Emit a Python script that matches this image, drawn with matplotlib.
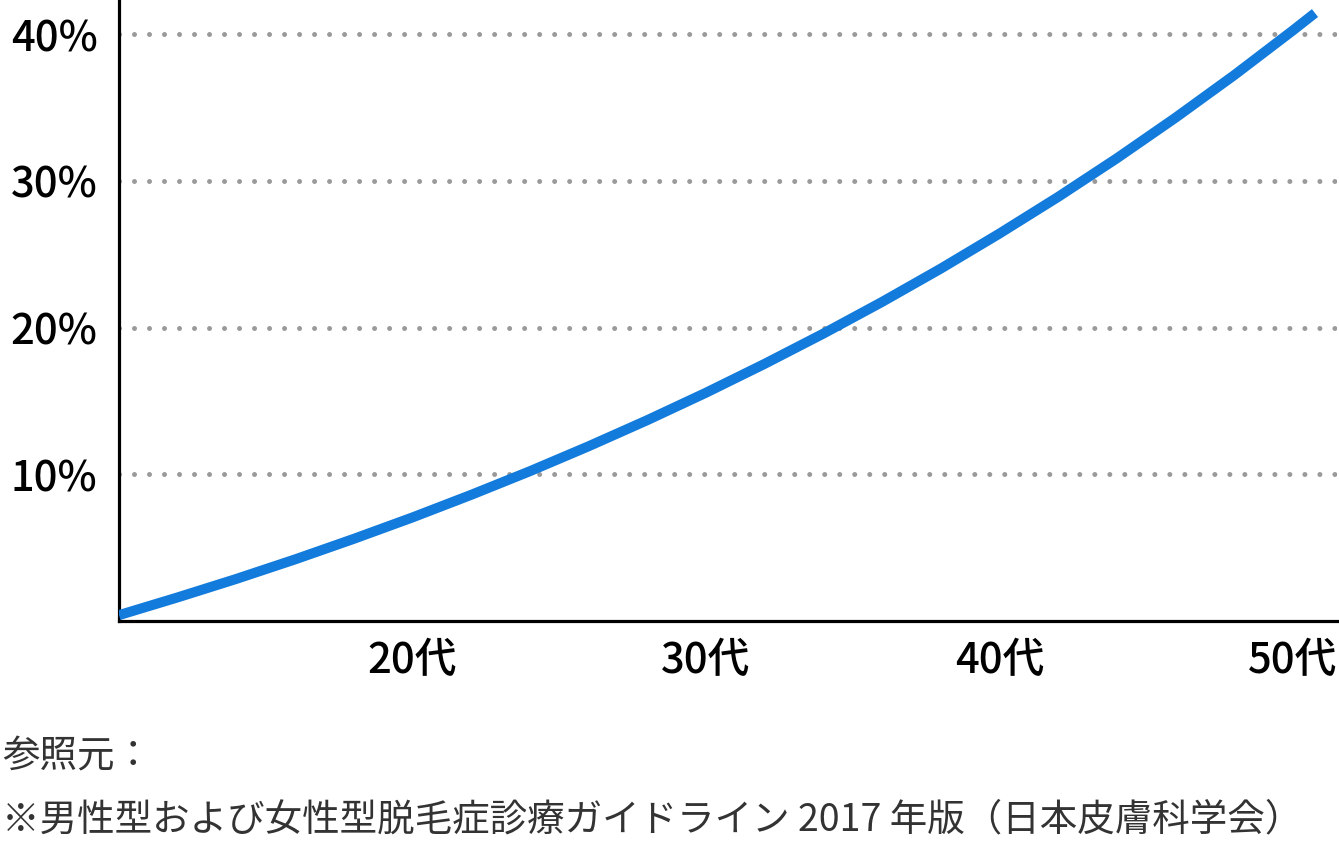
import numpy as np
import matplotlib
matplotlib.use('Agg')
import matplotlib.pyplot as plt

plt.rcParams['font.family'] = ['Noto Sans CJK JP', 'DejaVu Sans']

#--------------------------------------
# Values (age -> percent)
#--------------------------------------
age = [10, 12, 14, 16, 18, 20, 22, 24, 26, 28, 30, 32, 34, 36, 38,
       40, 42, 44, 46, 48, 50, 50.75]
rate = [0.40, 1.61, 2.87, 4.20, 5.60, 7.06, 8.60, 10.21, 11.91, 13.69,
        15.56, 17.53, 19.59, 21.75, 24.02, 26.41, 28.91, 31.54, 34.31,
        37.21, 40.26, 41.44]

xtick_pos = [20, 30, 40, 50]
xtick_lab = ['20代', '30代', '40代', '50代']
ytick_pos = [10, 20, 30, 40]
ytick_lab = ['10%', '20%', '30%', '40%']

source_head = '参照元：'
source_text = '※男性型および女性型脱毛症診療ガイドライン 2017 年版（日本皮膚科学会）'
#--------------------------------------

W, H = 1339, 844
fig = plt.figure(figsize=(W / 100, H / 100), dpi=100)
ax = fig.add_axes([119 / W, 223 / H, (1337 - 119) / W, (H - 223) / H])

ax.plot(age, rate, color='#127bdb', lw=7.2, solid_capstyle='butt',
        solid_joinstyle='round', zorder=3)

for y in ytick_pos:
    ax.axhline(y, color='#9a9a9a', lw=3.6, linestyle=(0, (0.001, 3.0)),
               dash_capstyle='round', zorder=1)

ax.set_xlim(10, 51.5)
ax.set_ylim(0, 42.33)
ax.set_xticks(xtick_pos)
ax.set_xticklabels(xtick_lab)
ax.set_yticks(ytick_pos)
ax.set_yticklabels(ytick_lab)
ax.tick_params(length=0, labelsize=30, colors='black')
ax.tick_params(axis='y', pad=15.5)
ax.tick_params(axis='x', pad=13)
for lab in ax.get_xticklabels() + ax.get_yticklabels():
    lab.set_fontweight('medium')

for s in ['top', 'right']:
    ax.spines[s].set_visible(False)
for s in ['left', 'bottom']:
    ax.spines[s].set_linewidth(2.3)
    ax.spines[s].set_color('black')

fig.text(2 / W, 1 - 757 / H, source_head, fontsize=27, color='#333333',
         va='center', ha='left')
fig.text(2 / W, 1 - 820 / H, source_text, fontsize=27, color='#333333',
         va='center', ha='left')

plt.savefig('out.png', dpi=100)
